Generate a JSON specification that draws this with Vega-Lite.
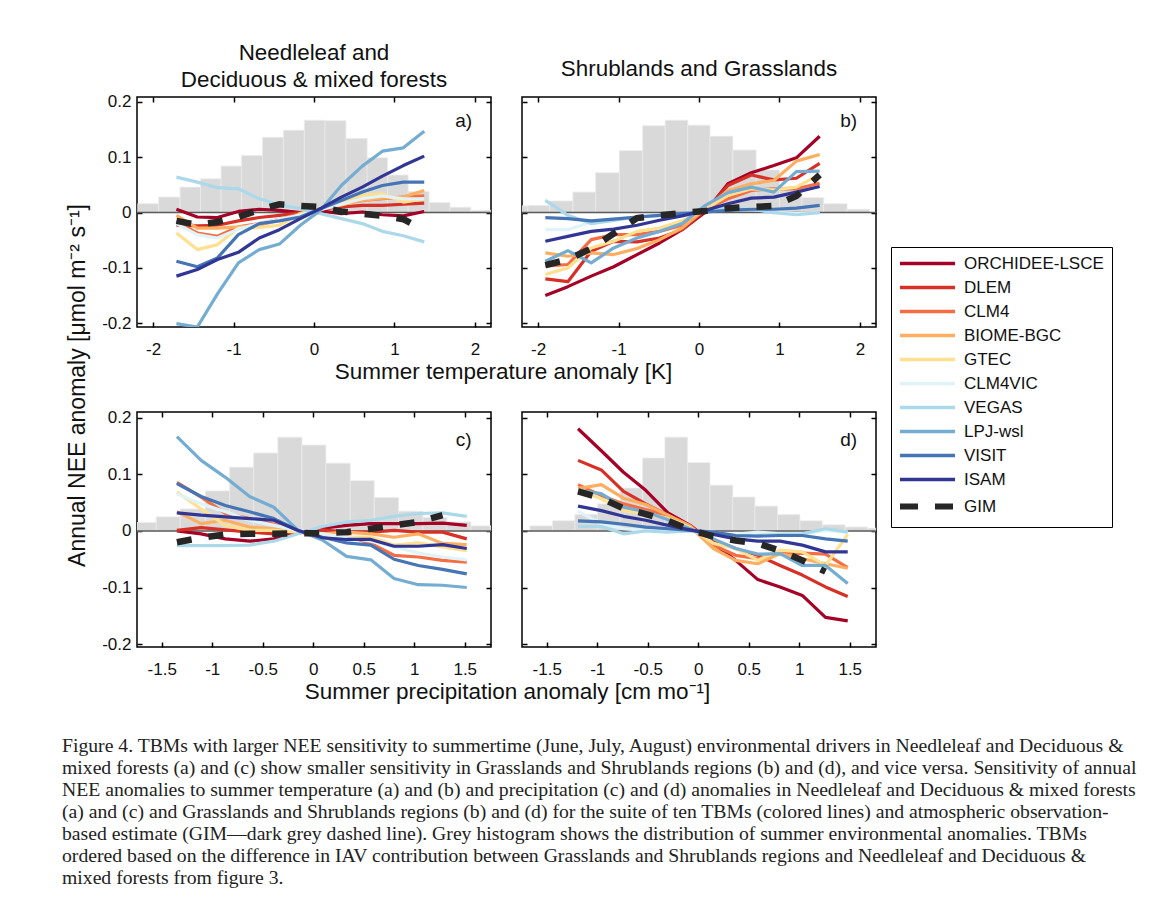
{
"$schema": "https://vega.github.io/schema/vega-lite/v6.json",
"padding": {"left": 62, "top": 40, "right": 5, "bottom": 5},
"background": "white",
"datasets": {
"H": [
{"p":"a","x0":-2.19,"x1":-1.93,"h":0.016},{"p":"a","x0":-1.93,"x1":-1.665,"h":0.028},{"p":"a","x0":-1.665,"x1":-1.41,"h":0.046},{"p":"a","x0":-1.41,"x1":-1.155,"h":0.061},{"p":"a","x0":-1.155,"x1":-0.9,"h":0.084},{"p":"a","x0":-0.9,"x1":-0.64,"h":0.103},{"p":"a","x0":-0.64,"x1":-0.38,"h":0.136},{"p":"a","x0":-0.38,"x1":-0.12,"h":0.149},{"p":"a","x0":-0.12,"x1":0.137,"h":0.167},{"p":"a","x0":0.137,"x1":0.397,"h":0.166},{"p":"a","x0":0.397,"x1":0.66,"h":0.134},{"p":"a","x0":0.66,"x1":0.915,"h":0.099},{"p":"a","x0":0.915,"x1":1.17,"h":0.068},{"p":"a","x0":1.17,"x1":1.43,"h":0.038},{"p":"a","x0":1.43,"x1":1.69,"h":0.018},{"p":"a","x0":1.69,"x1":1.95,"h":0.0095},{"p":"a","x0":1.95,"x1":2.21,"h":0.004},
{"p":"b","x0":-2.4,"x1":-2.128,"h":0.012},{"p":"b","x0":-2.128,"x1":-1.858,"h":0.013},{"p":"b","x0":-1.858,"x1":-1.567,"h":0.021},{"p":"b","x0":-1.567,"x1":-1.284,"h":0.037},{"p":"b","x0":-1.284,"x1":-0.99,"h":0.072},{"p":"b","x0":-0.99,"x1":-0.7,"h":0.112},{"p":"b","x0":-0.7,"x1":-0.42,"h":0.157},{"p":"b","x0":-0.42,"x1":-0.14,"h":0.167},{"p":"b","x0":-0.14,"x1":0.137,"h":0.158},{"p":"b","x0":0.137,"x1":0.42,"h":0.138},{"p":"b","x0":0.42,"x1":0.71,"h":0.113},{"p":"b","x0":0.71,"x1":1.0,"h":0.077},{"p":"b","x0":1.0,"x1":1.28,"h":0.047},{"p":"b","x0":1.28,"x1":1.55,"h":0.027},{"p":"b","x0":1.55,"x1":1.84,"h":0.016},{"p":"b","x0":1.84,"x1":2.12,"h":0.006},
{"p":"c","x0":-1.794,"x1":-1.554,"h":0.015},{"p":"c","x0":-1.554,"x1":-1.317,"h":0.025},{"p":"c","x0":-1.317,"x1":-1.069,"h":0.039},{"p":"c","x0":-1.069,"x1":-0.828,"h":0.071},{"p":"c","x0":-0.828,"x1":-0.59,"h":0.113},{"p":"c","x0":-0.59,"x1":-0.35,"h":0.138},{"p":"c","x0":-0.35,"x1":-0.112,"h":0.166},{"p":"c","x0":-0.112,"x1":0.125,"h":0.152},{"p":"c","x0":0.125,"x1":0.366,"h":0.12},{"p":"c","x0":0.366,"x1":0.604,"h":0.089},{"p":"c","x0":0.604,"x1":0.845,"h":0.059},{"p":"c","x0":0.845,"x1":1.086,"h":0.035},{"p":"c","x0":1.086,"x1":1.323,"h":0.024},{"p":"c","x0":1.323,"x1":1.561,"h":0.016},{"p":"c","x0":1.561,"x1":1.8,"h":0.009},
{"p":"d","x0":-1.666,"x1":-1.442,"h":0.009},{"p":"d","x0":-1.442,"x1":-1.221,"h":0.018},{"p":"d","x0":-1.221,"x1":-0.996,"h":0.029},{"p":"d","x0":-0.996,"x1":-0.775,"h":0.048},{"p":"d","x0":-0.775,"x1":-0.551,"h":0.076},{"p":"d","x0":-0.551,"x1":-0.33,"h":0.129},{"p":"d","x0":-0.33,"x1":-0.105,"h":0.166},{"p":"d","x0":-0.105,"x1":0.116,"h":0.121},{"p":"d","x0":0.116,"x1":0.341,"h":0.081},{"p":"d","x0":0.341,"x1":0.561,"h":0.06},{"p":"d","x0":0.561,"x1":0.786,"h":0.044},{"p":"d","x0":0.786,"x1":1.007,"h":0.029},{"p":"d","x0":1.007,"x1":1.228,"h":0.018},{"p":"d","x0":1.228,"x1":1.453,"h":0.011},{"p":"d","x0":1.453,"x1":1.674,"h":0.007},{"p":"d","x0":1.674,"x1":1.9,"h":0.005}
],
"L": [
{"p":"a","m":"ORCHIDEE-LSCE","x":-1.71,"y":0.006},{"p":"a","m":"ORCHIDEE-LSCE","x":-1.45,"y":-0.008},{"p":"a","m":"ORCHIDEE-LSCE","x":-1.2,"y":-0.009},{"p":"a","m":"ORCHIDEE-LSCE","x":-0.94,"y":0.002},{"p":"a","m":"ORCHIDEE-LSCE","x":-0.68,"y":0.006},{"p":"a","m":"ORCHIDEE-LSCE","x":-0.43,"y":0.004},{"p":"a","m":"ORCHIDEE-LSCE","x":-0.17,"y":0},{"p":"a","m":"ORCHIDEE-LSCE","x":0.08,"y":0.003},{"p":"a","m":"ORCHIDEE-LSCE","x":0.34,"y":-0.002},{"p":"a","m":"ORCHIDEE-LSCE","x":0.6,"y":0.001},{"p":"a","m":"ORCHIDEE-LSCE","x":0.85,"y":-0.004},{"p":"a","m":"ORCHIDEE-LSCE","x":1.11,"y":-0.006},{"p":"a","m":"ORCHIDEE-LSCE","x":1.37,"y":0.002},
{"p":"a","m":"DLEM","x":-1.71,"y":-0.023},{"p":"a","m":"DLEM","x":-1.45,"y":-0.024},{"p":"a","m":"DLEM","x":-1.2,"y":-0.023},{"p":"a","m":"DLEM","x":-0.94,"y":-0.015},{"p":"a","m":"DLEM","x":-0.68,"y":-0.009},{"p":"a","m":"DLEM","x":-0.43,"y":-0.005},{"p":"a","m":"DLEM","x":-0.17,"y":0},{"p":"a","m":"DLEM","x":0.08,"y":0.006},{"p":"a","m":"DLEM","x":0.34,"y":0.01},{"p":"a","m":"DLEM","x":0.6,"y":0.013},{"p":"a","m":"DLEM","x":0.85,"y":0.013},{"p":"a","m":"DLEM","x":1.11,"y":0.015},{"p":"a","m":"DLEM","x":1.37,"y":0.017},
{"p":"a","m":"CLM4","x":-1.71,"y":-0.017},{"p":"a","m":"CLM4","x":-1.45,"y":-0.037},{"p":"a","m":"CLM4","x":-1.2,"y":-0.043},{"p":"a","m":"CLM4","x":-0.94,"y":-0.026},{"p":"a","m":"CLM4","x":-0.68,"y":-0.02},{"p":"a","m":"CLM4","x":-0.43,"y":-0.012},{"p":"a","m":"CLM4","x":-0.17,"y":-0.002},{"p":"a","m":"CLM4","x":0.08,"y":0.007},{"p":"a","m":"CLM4","x":0.34,"y":0.016},{"p":"a","m":"CLM4","x":0.6,"y":0.022},{"p":"a","m":"CLM4","x":0.85,"y":0.025},{"p":"a","m":"CLM4","x":1.11,"y":0.028},{"p":"a","m":"CLM4","x":1.37,"y":0.03},
{"p":"a","m":"BIOME-BGC","x":-1.71,"y":-0.005},{"p":"a","m":"BIOME-BGC","x":-1.45,"y":-0.028},{"p":"a","m":"BIOME-BGC","x":-1.2,"y":-0.028},{"p":"a","m":"BIOME-BGC","x":-0.94,"y":-0.026},{"p":"a","m":"BIOME-BGC","x":-0.68,"y":-0.023},{"p":"a","m":"BIOME-BGC","x":-0.43,"y":-0.014},{"p":"a","m":"BIOME-BGC","x":-0.17,"y":-0.004},{"p":"a","m":"BIOME-BGC","x":0.08,"y":0.006},{"p":"a","m":"BIOME-BGC","x":0.34,"y":0.014},{"p":"a","m":"BIOME-BGC","x":0.6,"y":0.022},{"p":"a","m":"BIOME-BGC","x":0.85,"y":0.026},{"p":"a","m":"BIOME-BGC","x":1.11,"y":0.028},{"p":"a","m":"BIOME-BGC","x":1.37,"y":0.04},
{"p":"a","m":"GTEC","x":-1.71,"y":-0.037},{"p":"a","m":"GTEC","x":-1.45,"y":-0.067},{"p":"a","m":"GTEC","x":-1.2,"y":-0.058},{"p":"a","m":"GTEC","x":-0.94,"y":-0.028},{"p":"a","m":"GTEC","x":-0.68,"y":-0.027},{"p":"a","m":"GTEC","x":-0.43,"y":-0.023},{"p":"a","m":"GTEC","x":-0.17,"y":-0.002},{"p":"a","m":"GTEC","x":0.08,"y":0.007},{"p":"a","m":"GTEC","x":0.34,"y":0.019},{"p":"a","m":"GTEC","x":0.6,"y":0.031},{"p":"a","m":"GTEC","x":0.85,"y":0.034},{"p":"a","m":"GTEC","x":1.11,"y":0.019},{"p":"a","m":"GTEC","x":1.37,"y":0.025},
{"p":"a","m":"CLM4VIC","x":-1.71,"y":-0.02},{"p":"a","m":"CLM4VIC","x":-1.45,"y":-0.04},{"p":"a","m":"CLM4VIC","x":-1.2,"y":-0.046},{"p":"a","m":"CLM4VIC","x":-0.94,"y":-0.03},{"p":"a","m":"CLM4VIC","x":-0.68,"y":-0.02},{"p":"a","m":"CLM4VIC","x":-0.43,"y":-0.012},{"p":"a","m":"CLM4VIC","x":-0.17,"y":-0.005},{"p":"a","m":"CLM4VIC","x":0.08,"y":0.005},{"p":"a","m":"CLM4VIC","x":0.34,"y":0.015},{"p":"a","m":"CLM4VIC","x":0.6,"y":0.025},{"p":"a","m":"CLM4VIC","x":0.85,"y":0.03},{"p":"a","m":"CLM4VIC","x":1.11,"y":0.025},{"p":"a","m":"CLM4VIC","x":1.37,"y":0.025},
{"p":"a","m":"VEGAS","x":-1.71,"y":0.064},{"p":"a","m":"VEGAS","x":-1.45,"y":0.055},{"p":"a","m":"VEGAS","x":-1.2,"y":0.045},{"p":"a","m":"VEGAS","x":-0.94,"y":0.043},{"p":"a","m":"VEGAS","x":-0.68,"y":0.025},{"p":"a","m":"VEGAS","x":-0.43,"y":0.014},{"p":"a","m":"VEGAS","x":-0.17,"y":0.007},{"p":"a","m":"VEGAS","x":0.08,"y":-0.002},{"p":"a","m":"VEGAS","x":0.34,"y":-0.011},{"p":"a","m":"VEGAS","x":0.6,"y":-0.02},{"p":"a","m":"VEGAS","x":0.85,"y":-0.034},{"p":"a","m":"VEGAS","x":1.11,"y":-0.042},{"p":"a","m":"VEGAS","x":1.37,"y":-0.053},
{"p":"a","m":"LPJ-wsl","x":-1.71,"y":-0.201},{"p":"a","m":"LPJ-wsl","x":-1.45,"y":-0.207},{"p":"a","m":"LPJ-wsl","x":-1.2,"y":-0.147},{"p":"a","m":"LPJ-wsl","x":-0.94,"y":-0.091},{"p":"a","m":"LPJ-wsl","x":-0.68,"y":-0.067},{"p":"a","m":"LPJ-wsl","x":-0.43,"y":-0.057},{"p":"a","m":"LPJ-wsl","x":-0.17,"y":-0.023},{"p":"a","m":"LPJ-wsl","x":0.08,"y":0.004},{"p":"a","m":"LPJ-wsl","x":0.34,"y":0.049},{"p":"a","m":"LPJ-wsl","x":0.6,"y":0.084},{"p":"a","m":"LPJ-wsl","x":0.85,"y":0.111},{"p":"a","m":"LPJ-wsl","x":1.11,"y":0.117},{"p":"a","m":"LPJ-wsl","x":1.37,"y":0.147},
{"p":"a","m":"VISIT","x":-1.71,"y":-0.088},{"p":"a","m":"VISIT","x":-1.45,"y":-0.098},{"p":"a","m":"VISIT","x":-1.2,"y":-0.082},{"p":"a","m":"VISIT","x":-0.94,"y":-0.04},{"p":"a","m":"VISIT","x":-0.68,"y":-0.02},{"p":"a","m":"VISIT","x":-0.43,"y":-0.015},{"p":"a","m":"VISIT","x":-0.17,"y":-0.008},{"p":"a","m":"VISIT","x":0.08,"y":0.007},{"p":"a","m":"VISIT","x":0.34,"y":0.022},{"p":"a","m":"VISIT","x":0.6,"y":0.037},{"p":"a","m":"VISIT","x":0.85,"y":0.049},{"p":"a","m":"VISIT","x":1.11,"y":0.055},{"p":"a","m":"VISIT","x":1.37,"y":0.055},
{"p":"a","m":"ISAM","x":-1.71,"y":-0.115},{"p":"a","m":"ISAM","x":-1.45,"y":-0.103},{"p":"a","m":"ISAM","x":-1.2,"y":-0.085},{"p":"a","m":"ISAM","x":-0.94,"y":-0.072},{"p":"a","m":"ISAM","x":-0.68,"y":-0.046},{"p":"a","m":"ISAM","x":-0.43,"y":-0.031},{"p":"a","m":"ISAM","x":-0.17,"y":-0.011},{"p":"a","m":"ISAM","x":0.08,"y":0.007},{"p":"a","m":"ISAM","x":0.34,"y":0.028},{"p":"a","m":"ISAM","x":0.6,"y":0.046},{"p":"a","m":"ISAM","x":0.85,"y":0.066},{"p":"a","m":"ISAM","x":1.11,"y":0.085},{"p":"a","m":"ISAM","x":1.37,"y":0.102},
{"p":"a","m":"GIM","x":-1.71,"y":-0.015},{"p":"a","m":"GIM","x":-1.45,"y":-0.022},{"p":"a","m":"GIM","x":-1.2,"y":-0.017},{"p":"a","m":"GIM","x":-0.94,"y":-0.008},{"p":"a","m":"GIM","x":-0.68,"y":0.005},{"p":"a","m":"GIM","x":-0.43,"y":0.015},{"p":"a","m":"GIM","x":-0.17,"y":0.012},{"p":"a","m":"GIM","x":0.08,"y":0.01},{"p":"a","m":"GIM","x":0.34,"y":0.002},{"p":"a","m":"GIM","x":0.6,"y":-0.002},{"p":"a","m":"GIM","x":0.85,"y":-0.006},{"p":"a","m":"GIM","x":1.11,"y":-0.012},{"p":"a","m":"GIM","x":1.37,"y":-0.032},

{"p":"b","m":"ORCHIDEE-LSCE","x":-1.91,"y":-0.15},{"p":"b","m":"ORCHIDEE-LSCE","x":-1.63,"y":-0.134},{"p":"b","m":"ORCHIDEE-LSCE","x":-1.34,"y":-0.115},{"p":"b","m":"ORCHIDEE-LSCE","x":-1.06,"y":-0.098},{"p":"b","m":"ORCHIDEE-LSCE","x":-0.77,"y":-0.076},{"p":"b","m":"ORCHIDEE-LSCE","x":-0.49,"y":-0.055},{"p":"b","m":"ORCHIDEE-LSCE","x":-0.21,"y":-0.031},{"p":"b","m":"ORCHIDEE-LSCE","x":0.08,"y":0.001},{"p":"b","m":"ORCHIDEE-LSCE","x":0.36,"y":0.052},{"p":"b","m":"ORCHIDEE-LSCE","x":0.65,"y":0.072},{"p":"b","m":"ORCHIDEE-LSCE","x":0.93,"y":0.085},{"p":"b","m":"ORCHIDEE-LSCE","x":1.21,"y":0.099},{"p":"b","m":"ORCHIDEE-LSCE","x":1.5,"y":0.138},
{"p":"b","m":"DLEM","x":-1.91,"y":-0.12},{"p":"b","m":"DLEM","x":-1.63,"y":-0.125},{"p":"b","m":"DLEM","x":-1.34,"y":-0.07},{"p":"b","m":"DLEM","x":-1.06,"y":-0.052},{"p":"b","m":"DLEM","x":-0.77,"y":-0.053},{"p":"b","m":"DLEM","x":-0.49,"y":-0.046},{"p":"b","m":"DLEM","x":-0.21,"y":-0.031},{"p":"b","m":"DLEM","x":0.08,"y":0.004},{"p":"b","m":"DLEM","x":0.36,"y":0.049},{"p":"b","m":"DLEM","x":0.65,"y":0.068},{"p":"b","m":"DLEM","x":0.93,"y":0.059},{"p":"b","m":"DLEM","x":1.21,"y":0.062},{"p":"b","m":"DLEM","x":1.5,"y":0.089},
{"p":"b","m":"CLM4","x":-1.91,"y":-0.097},{"p":"b","m":"CLM4","x":-1.63,"y":-0.094},{"p":"b","m":"CLM4","x":-1.34,"y":-0.049},{"p":"b","m":"CLM4","x":-1.06,"y":-0.04},{"p":"b","m":"CLM4","x":-0.77,"y":-0.04},{"p":"b","m":"CLM4","x":-0.49,"y":-0.034},{"p":"b","m":"CLM4","x":-0.21,"y":-0.023},{"p":"b","m":"CLM4","x":0.08,"y":0.006},{"p":"b","m":"CLM4","x":0.36,"y":0.025},{"p":"b","m":"CLM4","x":0.65,"y":0.04},{"p":"b","m":"CLM4","x":0.93,"y":0.043},{"p":"b","m":"CLM4","x":1.21,"y":0.043},{"p":"b","m":"CLM4","x":1.5,"y":0.053},
{"p":"b","m":"BIOME-BGC","x":-1.91,"y":-0.073},{"p":"b","m":"BIOME-BGC","x":-1.63,"y":-0.079},{"p":"b","m":"BIOME-BGC","x":-1.34,"y":-0.073},{"p":"b","m":"BIOME-BGC","x":-1.06,"y":-0.076},{"p":"b","m":"BIOME-BGC","x":-0.77,"y":-0.065},{"p":"b","m":"BIOME-BGC","x":-0.49,"y":-0.049},{"p":"b","m":"BIOME-BGC","x":-0.21,"y":-0.028},{"p":"b","m":"BIOME-BGC","x":0.08,"y":0.007},{"p":"b","m":"BIOME-BGC","x":0.36,"y":0.04},{"p":"b","m":"BIOME-BGC","x":0.65,"y":0.052},{"p":"b","m":"BIOME-BGC","x":0.93,"y":0.058},{"p":"b","m":"BIOME-BGC","x":1.21,"y":0.093},{"p":"b","m":"BIOME-BGC","x":1.5,"y":0.105},
{"p":"b","m":"GTEC","x":-1.91,"y":-0.112},{"p":"b","m":"GTEC","x":-1.63,"y":-0.1},{"p":"b","m":"GTEC","x":-1.34,"y":-0.064},{"p":"b","m":"GTEC","x":-1.06,"y":-0.052},{"p":"b","m":"GTEC","x":-0.77,"y":-0.034},{"p":"b","m":"GTEC","x":-0.49,"y":-0.028},{"p":"b","m":"GTEC","x":-0.21,"y":-0.015},{"p":"b","m":"GTEC","x":0.08,"y":0.006},{"p":"b","m":"GTEC","x":0.36,"y":0.031},{"p":"b","m":"GTEC","x":0.65,"y":0.043},{"p":"b","m":"GTEC","x":0.93,"y":0.041},{"p":"b","m":"GTEC","x":1.21,"y":0.046},{"p":"b","m":"GTEC","x":1.5,"y":0.069},
{"p":"b","m":"CLM4VIC","x":-1.91,"y":-0.031},{"p":"b","m":"CLM4VIC","x":-1.63,"y":-0.031},{"p":"b","m":"CLM4VIC","x":-1.34,"y":-0.017},{"p":"b","m":"CLM4VIC","x":-1.06,"y":-0.011},{"p":"b","m":"CLM4VIC","x":-0.77,"y":-0.009},{"p":"b","m":"CLM4VIC","x":-0.49,"y":-0.006},{"p":"b","m":"CLM4VIC","x":-0.21,"y":-0.004},{"p":"b","m":"CLM4VIC","x":0.08,"y":0.002},{"p":"b","m":"CLM4VIC","x":0.36,"y":0.006},{"p":"b","m":"CLM4VIC","x":0.65,"y":0.007},{"p":"b","m":"CLM4VIC","x":0.93,"y":0.001},{"p":"b","m":"CLM4VIC","x":1.21,"y":-0.002},{"p":"b","m":"CLM4VIC","x":1.5,"y":0},
{"p":"b","m":"VEGAS","x":-1.91,"y":0.022},{"p":"b","m":"VEGAS","x":-1.63,"y":-0.005},{"p":"b","m":"VEGAS","x":-1.34,"y":-0.02},{"p":"b","m":"VEGAS","x":-1.06,"y":-0.014},{"p":"b","m":"VEGAS","x":-0.77,"y":-0.008},{"p":"b","m":"VEGAS","x":-0.49,"y":-0.005},{"p":"b","m":"VEGAS","x":-0.21,"y":-0.002},{"p":"b","m":"VEGAS","x":0.08,"y":0.004},{"p":"b","m":"VEGAS","x":0.36,"y":0.008},{"p":"b","m":"VEGAS","x":0.65,"y":0.006},{"p":"b","m":"VEGAS","x":0.93,"y":0},{"p":"b","m":"VEGAS","x":1.21,"y":-0.004},{"p":"b","m":"VEGAS","x":1.5,"y":0},
{"p":"b","m":"LPJ-wsl","x":-1.91,"y":-0.088},{"p":"b","m":"LPJ-wsl","x":-1.63,"y":-0.069},{"p":"b","m":"LPJ-wsl","x":-1.34,"y":-0.091},{"p":"b","m":"LPJ-wsl","x":-1.06,"y":-0.064},{"p":"b","m":"LPJ-wsl","x":-0.77,"y":-0.046},{"p":"b","m":"LPJ-wsl","x":-0.49,"y":-0.034},{"p":"b","m":"LPJ-wsl","x":-0.21,"y":-0.02},{"p":"b","m":"LPJ-wsl","x":0.08,"y":0.013},{"p":"b","m":"LPJ-wsl","x":0.36,"y":0.036},{"p":"b","m":"LPJ-wsl","x":0.65,"y":0.046},{"p":"b","m":"LPJ-wsl","x":0.93,"y":0.037},{"p":"b","m":"LPJ-wsl","x":1.21,"y":0.074},{"p":"b","m":"LPJ-wsl","x":1.5,"y":0.075},
{"p":"b","m":"VISIT","x":-1.91,"y":-0.009},{"p":"b","m":"VISIT","x":-1.63,"y":-0.011},{"p":"b","m":"VISIT","x":-1.34,"y":-0.015},{"p":"b","m":"VISIT","x":-1.06,"y":-0.012},{"p":"b","m":"VISIT","x":-0.77,"y":-0.008},{"p":"b","m":"VISIT","x":-0.49,"y":-0.005},{"p":"b","m":"VISIT","x":-0.21,"y":-0.002},{"p":"b","m":"VISIT","x":0.08,"y":0.001},{"p":"b","m":"VISIT","x":0.36,"y":0.004},{"p":"b","m":"VISIT","x":0.65,"y":0.006},{"p":"b","m":"VISIT","x":0.93,"y":0.006},{"p":"b","m":"VISIT","x":1.21,"y":0.008},{"p":"b","m":"VISIT","x":1.5,"y":0.013},
{"p":"b","m":"ISAM","x":-1.91,"y":-0.052},{"p":"b","m":"ISAM","x":-1.63,"y":-0.043},{"p":"b","m":"ISAM","x":-1.34,"y":-0.034},{"p":"b","m":"ISAM","x":-1.06,"y":-0.03},{"p":"b","m":"ISAM","x":-0.77,"y":-0.023},{"p":"b","m":"ISAM","x":-0.49,"y":-0.014},{"p":"b","m":"ISAM","x":-0.21,"y":-0.006},{"p":"b","m":"ISAM","x":0.08,"y":0.004},{"p":"b","m":"ISAM","x":0.36,"y":0.016},{"p":"b","m":"ISAM","x":0.65,"y":0.026},{"p":"b","m":"ISAM","x":0.93,"y":0.028},{"p":"b","m":"ISAM","x":1.21,"y":0.037},{"p":"b","m":"ISAM","x":1.5,"y":0.047},
{"p":"b","m":"GIM","x":-1.91,"y":-0.095},{"p":"b","m":"GIM","x":-1.63,"y":-0.085},{"p":"b","m":"GIM","x":-1.34,"y":-0.065},{"p":"b","m":"GIM","x":-1.06,"y":-0.038},{"p":"b","m":"GIM","x":-0.77,"y":-0.01},{"p":"b","m":"GIM","x":-0.49,"y":-0.005},{"p":"b","m":"GIM","x":-0.21,"y":-0.001},{"p":"b","m":"GIM","x":0.08,"y":0.003},{"p":"b","m":"GIM","x":0.36,"y":0.008},{"p":"b","m":"GIM","x":0.65,"y":0.01},{"p":"b","m":"GIM","x":0.93,"y":0.012},{"p":"b","m":"GIM","x":1.21,"y":0.03},{"p":"b","m":"GIM","x":1.5,"y":0.068},

{"p":"c","m":"ORCHIDEE-LSCE","x":-1.35,"y":0},{"p":"c","m":"ORCHIDEE-LSCE","x":-1.11,"y":-0.005},{"p":"c","m":"ORCHIDEE-LSCE","x":-0.87,"y":-0.014},{"p":"c","m":"ORCHIDEE-LSCE","x":-0.63,"y":-0.018},{"p":"c","m":"ORCHIDEE-LSCE","x":-0.39,"y":-0.014},{"p":"c","m":"ORCHIDEE-LSCE","x":-0.15,"y":-0.004},{"p":"c","m":"ORCHIDEE-LSCE","x":0.09,"y":0.005},{"p":"c","m":"ORCHIDEE-LSCE","x":0.33,"y":0.01},{"p":"c","m":"ORCHIDEE-LSCE","x":0.57,"y":0.013},{"p":"c","m":"ORCHIDEE-LSCE","x":0.8,"y":0.013},{"p":"c","m":"ORCHIDEE-LSCE","x":1.04,"y":0.013},{"p":"c","m":"ORCHIDEE-LSCE","x":1.28,"y":0.014},{"p":"c","m":"ORCHIDEE-LSCE","x":1.52,"y":0.01},
{"p":"c","m":"DLEM","x":-1.35,"y":0.001},{"p":"c","m":"DLEM","x":-1.11,"y":0.006},{"p":"c","m":"DLEM","x":-0.87,"y":0.002},{"p":"c","m":"DLEM","x":-0.63,"y":-0.002},{"p":"c","m":"DLEM","x":-0.39,"y":-0.005},{"p":"c","m":"DLEM","x":-0.15,"y":-0.002},{"p":"c","m":"DLEM","x":0.09,"y":0.002},{"p":"c","m":"DLEM","x":0.33,"y":-0.002},{"p":"c","m":"DLEM","x":0.57,"y":-0.002},{"p":"c","m":"DLEM","x":0.8,"y":0.001},{"p":"c","m":"DLEM","x":1.04,"y":-0.002},{"p":"c","m":"DLEM","x":1.28,"y":-0.002},{"p":"c","m":"DLEM","x":1.52,"y":-0.014},
{"p":"c","m":"CLM4","x":-1.35,"y":0.086},{"p":"c","m":"CLM4","x":-1.11,"y":0.06},{"p":"c","m":"CLM4","x":-0.87,"y":0.031},{"p":"c","m":"CLM4","x":-0.63,"y":0.022},{"p":"c","m":"CLM4","x":-0.39,"y":0.012},{"p":"c","m":"CLM4","x":-0.15,"y":0},{"p":"c","m":"CLM4","x":0.09,"y":-0.011},{"p":"c","m":"CLM4","x":0.33,"y":-0.009},{"p":"c","m":"CLM4","x":0.57,"y":-0.022},{"p":"c","m":"CLM4","x":0.8,"y":-0.043},{"p":"c","m":"CLM4","x":1.04,"y":-0.046},{"p":"c","m":"CLM4","x":1.28,"y":-0.052},{"p":"c","m":"CLM4","x":1.52,"y":-0.055},
{"p":"c","m":"BIOME-BGC","x":-1.35,"y":0.034},{"p":"c","m":"BIOME-BGC","x":-1.11,"y":0.013},{"p":"c","m":"BIOME-BGC","x":-0.87,"y":0.019},{"p":"c","m":"BIOME-BGC","x":-0.63,"y":0.007},{"p":"c","m":"BIOME-BGC","x":-0.39,"y":0.004},{"p":"c","m":"BIOME-BGC","x":-0.15,"y":0},{"p":"c","m":"BIOME-BGC","x":0.09,"y":-0.005},{"p":"c","m":"BIOME-BGC","x":0.33,"y":-0.002},{"p":"c","m":"BIOME-BGC","x":0.57,"y":-0.005},{"p":"c","m":"BIOME-BGC","x":0.8,"y":-0.011},{"p":"c","m":"BIOME-BGC","x":1.04,"y":-0.005},{"p":"c","m":"BIOME-BGC","x":1.28,"y":-0.022},{"p":"c","m":"BIOME-BGC","x":1.52,"y":-0.024},
{"p":"c","m":"GTEC","x":-1.35,"y":0.069},{"p":"c","m":"GTEC","x":-1.11,"y":0.039},{"p":"c","m":"GTEC","x":-0.87,"y":0.01},{"p":"c","m":"GTEC","x":-0.63,"y":0.001},{"p":"c","m":"GTEC","x":-0.39,"y":0.001},{"p":"c","m":"GTEC","x":-0.15,"y":-0.002},{"p":"c","m":"GTEC","x":0.09,"y":-0.008},{"p":"c","m":"GTEC","x":0.33,"y":-0.011},{"p":"c","m":"GTEC","x":0.57,"y":-0.011},{"p":"c","m":"GTEC","x":0.8,"y":-0.025},{"p":"c","m":"GTEC","x":1.04,"y":-0.021},{"p":"c","m":"GTEC","x":1.28,"y":-0.028},{"p":"c","m":"GTEC","x":1.52,"y":-0.035},
{"p":"c","m":"CLM4VIC","x":-1.35,"y":0.066},{"p":"c","m":"CLM4VIC","x":-1.11,"y":0.048},{"p":"c","m":"CLM4VIC","x":-0.87,"y":0.034},{"p":"c","m":"CLM4VIC","x":-0.63,"y":0.019},{"p":"c","m":"CLM4VIC","x":-0.39,"y":0.01},{"p":"c","m":"CLM4VIC","x":-0.15,"y":0.001},{"p":"c","m":"CLM4VIC","x":0.09,"y":-0.005},{"p":"c","m":"CLM4VIC","x":0.33,"y":-0.011},{"p":"c","m":"CLM4VIC","x":0.57,"y":-0.018},{"p":"c","m":"CLM4VIC","x":0.8,"y":-0.028},{"p":"c","m":"CLM4VIC","x":1.04,"y":-0.039},{"p":"c","m":"CLM4VIC","x":1.28,"y":-0.046},{"p":"c","m":"CLM4VIC","x":1.52,"y":-0.051},
{"p":"c","m":"VEGAS","x":-1.35,"y":-0.026},{"p":"c","m":"VEGAS","x":-1.11,"y":-0.026},{"p":"c","m":"VEGAS","x":-0.87,"y":-0.026},{"p":"c","m":"VEGAS","x":-0.63,"y":-0.025},{"p":"c","m":"VEGAS","x":-0.39,"y":-0.018},{"p":"c","m":"VEGAS","x":-0.15,"y":-0.005},{"p":"c","m":"VEGAS","x":0.09,"y":0.008},{"p":"c","m":"VEGAS","x":0.33,"y":0.016},{"p":"c","m":"VEGAS","x":0.57,"y":0.019},{"p":"c","m":"VEGAS","x":0.8,"y":0.026},{"p":"c","m":"VEGAS","x":1.04,"y":0.031},{"p":"c","m":"VEGAS","x":1.28,"y":0.032},{"p":"c","m":"VEGAS","x":1.52,"y":0.026},
{"p":"c","m":"LPJ-wsl","x":-1.35,"y":0.167},{"p":"c","m":"LPJ-wsl","x":-1.11,"y":0.125},{"p":"c","m":"LPJ-wsl","x":-0.87,"y":0.095},{"p":"c","m":"LPJ-wsl","x":-0.63,"y":0.061},{"p":"c","m":"LPJ-wsl","x":-0.39,"y":0.042},{"p":"c","m":"LPJ-wsl","x":-0.15,"y":0.001},{"p":"c","m":"LPJ-wsl","x":0.09,"y":-0.016},{"p":"c","m":"LPJ-wsl","x":0.33,"y":-0.045},{"p":"c","m":"LPJ-wsl","x":0.57,"y":-0.051},{"p":"c","m":"LPJ-wsl","x":0.8,"y":-0.084},{"p":"c","m":"LPJ-wsl","x":1.04,"y":-0.095},{"p":"c","m":"LPJ-wsl","x":1.28,"y":-0.096},{"p":"c","m":"LPJ-wsl","x":1.52,"y":-0.1},
{"p":"c","m":"VISIT","x":-1.35,"y":0.084},{"p":"c","m":"VISIT","x":-1.11,"y":0.061},{"p":"c","m":"VISIT","x":-0.87,"y":0.045},{"p":"c","m":"VISIT","x":-0.63,"y":0.034},{"p":"c","m":"VISIT","x":-0.39,"y":0.022},{"p":"c","m":"VISIT","x":-0.15,"y":0.001},{"p":"c","m":"VISIT","x":0.09,"y":-0.011},{"p":"c","m":"VISIT","x":0.33,"y":-0.021},{"p":"c","m":"VISIT","x":0.57,"y":-0.025},{"p":"c","m":"VISIT","x":0.8,"y":-0.05},{"p":"c","m":"VISIT","x":1.04,"y":-0.061},{"p":"c","m":"VISIT","x":1.28,"y":-0.068},{"p":"c","m":"VISIT","x":1.52,"y":-0.076},
{"p":"c","m":"ISAM","x":-1.35,"y":0.032},{"p":"c","m":"ISAM","x":-1.11,"y":0.028},{"p":"c","m":"ISAM","x":-0.87,"y":0.025},{"p":"c","m":"ISAM","x":-0.63,"y":0.022},{"p":"c","m":"ISAM","x":-0.39,"y":0.019},{"p":"c","m":"ISAM","x":-0.15,"y":0.001},{"p":"c","m":"ISAM","x":0.09,"y":-0.012},{"p":"c","m":"ISAM","x":0.33,"y":-0.015},{"p":"c","m":"ISAM","x":0.57,"y":-0.015},{"p":"c","m":"ISAM","x":0.8,"y":-0.027},{"p":"c","m":"ISAM","x":1.04,"y":-0.027},{"p":"c","m":"ISAM","x":1.28,"y":-0.024},{"p":"c","m":"ISAM","x":1.52,"y":-0.031},
{"p":"c","m":"GIM","x":-1.35,"y":-0.02},{"p":"c","m":"GIM","x":-1.11,"y":-0.012},{"p":"c","m":"GIM","x":-0.87,"y":-0.006},{"p":"c","m":"GIM","x":-0.63,"y":-0.005},{"p":"c","m":"GIM","x":-0.39,"y":-0.005},{"p":"c","m":"GIM","x":-0.15,"y":-0.004},{"p":"c","m":"GIM","x":0.09,"y":-0.004},{"p":"c","m":"GIM","x":0.33,"y":-0.002},{"p":"c","m":"GIM","x":0.57,"y":0.004},{"p":"c","m":"GIM","x":0.8,"y":0.01},{"p":"c","m":"GIM","x":1.04,"y":0.016},{"p":"c","m":"GIM","x":1.28,"y":0.028},

{"p":"d","m":"ORCHIDEE-LSCE","x":-1.19,"y":0.181},{"p":"d","m":"ORCHIDEE-LSCE","x":-0.96,"y":0.142},{"p":"d","m":"ORCHIDEE-LSCE","x":-0.74,"y":0.104},{"p":"d","m":"ORCHIDEE-LSCE","x":-0.52,"y":0.072},{"p":"d","m":"ORCHIDEE-LSCE","x":-0.3,"y":0.032},{"p":"d","m":"ORCHIDEE-LSCE","x":-0.08,"y":0.01},{"p":"d","m":"ORCHIDEE-LSCE","x":0.15,"y":-0.022},{"p":"d","m":"ORCHIDEE-LSCE","x":0.37,"y":-0.052},{"p":"d","m":"ORCHIDEE-LSCE","x":0.59,"y":-0.086},{"p":"d","m":"ORCHIDEE-LSCE","x":0.81,"y":-0.099},{"p":"d","m":"ORCHIDEE-LSCE","x":1.03,"y":-0.114},{"p":"d","m":"ORCHIDEE-LSCE","x":1.26,"y":-0.153},{"p":"d","m":"ORCHIDEE-LSCE","x":1.48,"y":-0.159},
{"p":"d","m":"DLEM","x":-1.19,"y":0.125},{"p":"d","m":"DLEM","x":-0.96,"y":0.108},{"p":"d","m":"DLEM","x":-0.74,"y":0.07},{"p":"d","m":"DLEM","x":-0.52,"y":0.048},{"p":"d","m":"DLEM","x":-0.3,"y":0.028},{"p":"d","m":"DLEM","x":-0.08,"y":0.007},{"p":"d","m":"DLEM","x":0.15,"y":-0.016},{"p":"d","m":"DLEM","x":0.37,"y":-0.031},{"p":"d","m":"DLEM","x":0.59,"y":-0.043},{"p":"d","m":"DLEM","x":0.81,"y":-0.061},{"p":"d","m":"DLEM","x":1.03,"y":-0.078},{"p":"d","m":"DLEM","x":1.26,"y":-0.099},{"p":"d","m":"DLEM","x":1.48,"y":-0.116},
{"p":"d","m":"CLM4","x":-1.19,"y":0.082},{"p":"d","m":"CLM4","x":-0.96,"y":0.063},{"p":"d","m":"CLM4","x":-0.74,"y":0.048},{"p":"d","m":"CLM4","x":-0.52,"y":0.038},{"p":"d","m":"CLM4","x":-0.3,"y":0.028},{"p":"d","m":"CLM4","x":-0.08,"y":0.01},{"p":"d","m":"CLM4","x":0.15,"y":-0.025},{"p":"d","m":"CLM4","x":0.37,"y":-0.043},{"p":"d","m":"CLM4","x":0.59,"y":-0.049},{"p":"d","m":"CLM4","x":0.81,"y":-0.04},{"p":"d","m":"CLM4","x":1.03,"y":-0.039},{"p":"d","m":"CLM4","x":1.26,"y":-0.041},{"p":"d","m":"CLM4","x":1.48,"y":-0.065},
{"p":"d","m":"BIOME-BGC","x":-1.19,"y":0.075},{"p":"d","m":"BIOME-BGC","x":-0.96,"y":0.082},{"p":"d","m":"BIOME-BGC","x":-0.74,"y":0.058},{"p":"d","m":"BIOME-BGC","x":-0.52,"y":0.047},{"p":"d","m":"BIOME-BGC","x":-0.3,"y":0.028},{"p":"d","m":"BIOME-BGC","x":-0.08,"y":0.008},{"p":"d","m":"BIOME-BGC","x":0.15,"y":-0.031},{"p":"d","m":"BIOME-BGC","x":0.37,"y":-0.052},{"p":"d","m":"BIOME-BGC","x":0.59,"y":-0.058},{"p":"d","m":"BIOME-BGC","x":0.81,"y":-0.04},{"p":"d","m":"BIOME-BGC","x":1.03,"y":-0.049},{"p":"d","m":"BIOME-BGC","x":1.26,"y":-0.058},{"p":"d","m":"BIOME-BGC","x":1.48,"y":-0.066},
{"p":"d","m":"GTEC","x":-1.19,"y":0.072},{"p":"d","m":"GTEC","x":-0.96,"y":0.057},{"p":"d","m":"GTEC","x":-0.74,"y":0.036},{"p":"d","m":"GTEC","x":-0.52,"y":0.031},{"p":"d","m":"GTEC","x":-0.3,"y":0.022},{"p":"d","m":"GTEC","x":-0.08,"y":0.006},{"p":"d","m":"GTEC","x":0.15,"y":-0.022},{"p":"d","m":"GTEC","x":0.37,"y":-0.031},{"p":"d","m":"GTEC","x":0.59,"y":-0.052},{"p":"d","m":"GTEC","x":0.81,"y":-0.034},{"p":"d","m":"GTEC","x":1.03,"y":-0.037},{"p":"d","m":"GTEC","x":1.26,"y":-0.061},{"p":"d","m":"GTEC","x":1.48,"y":-0.006},
{"p":"d","m":"CLM4VIC","x":-1.19,"y":0.035},{"p":"d","m":"CLM4VIC","x":-0.96,"y":0.013},{"p":"d","m":"CLM4VIC","x":-0.74,"y":0.004},{"p":"d","m":"CLM4VIC","x":-0.52,"y":0.001},{"p":"d","m":"CLM4VIC","x":-0.3,"y":0},{"p":"d","m":"CLM4VIC","x":-0.08,"y":0},{"p":"d","m":"CLM4VIC","x":0.15,"y":-0.005},{"p":"d","m":"CLM4VIC","x":0.37,"y":-0.006},{"p":"d","m":"CLM4VIC","x":0.59,"y":-0.002},{"p":"d","m":"CLM4VIC","x":0.81,"y":-0.005},{"p":"d","m":"CLM4VIC","x":1.03,"y":-0.005},{"p":"d","m":"CLM4VIC","x":1.26,"y":0.001},{"p":"d","m":"CLM4VIC","x":1.48,"y":-0.002},
{"p":"d","m":"VEGAS","x":-1.19,"y":0.008},{"p":"d","m":"VEGAS","x":-0.96,"y":0.008},{"p":"d","m":"VEGAS","x":-0.74,"y":-0.005},{"p":"d","m":"VEGAS","x":-0.52,"y":0},{"p":"d","m":"VEGAS","x":-0.3,"y":-0.002},{"p":"d","m":"VEGAS","x":-0.08,"y":0},{"p":"d","m":"VEGAS","x":0.15,"y":-0.002},{"p":"d","m":"VEGAS","x":0.37,"y":-0.009},{"p":"d","m":"VEGAS","x":0.59,"y":-0.008},{"p":"d","m":"VEGAS","x":0.81,"y":-0.006},{"p":"d","m":"VEGAS","x":1.03,"y":-0.005},{"p":"d","m":"VEGAS","x":1.26,"y":0.004},{"p":"d","m":"VEGAS","x":1.48,"y":-0.002},
{"p":"d","m":"LPJ-wsl","x":-1.19,"y":0.072},{"p":"d","m":"LPJ-wsl","x":-0.96,"y":0.066},{"p":"d","m":"LPJ-wsl","x":-0.74,"y":0.042},{"p":"d","m":"LPJ-wsl","x":-0.52,"y":0.034},{"p":"d","m":"LPJ-wsl","x":-0.3,"y":0.02},{"p":"d","m":"LPJ-wsl","x":-0.08,"y":0.004},{"p":"d","m":"LPJ-wsl","x":0.15,"y":-0.014},{"p":"d","m":"LPJ-wsl","x":0.37,"y":-0.031},{"p":"d","m":"LPJ-wsl","x":0.59,"y":-0.041},{"p":"d","m":"LPJ-wsl","x":0.81,"y":-0.04},{"p":"d","m":"LPJ-wsl","x":1.03,"y":-0.061},{"p":"d","m":"LPJ-wsl","x":1.26,"y":-0.061},{"p":"d","m":"LPJ-wsl","x":1.48,"y":-0.093},
{"p":"d","m":"VISIT","x":-1.19,"y":0.018},{"p":"d","m":"VISIT","x":-0.96,"y":0.016},{"p":"d","m":"VISIT","x":-0.74,"y":0.012},{"p":"d","m":"VISIT","x":-0.52,"y":0.007},{"p":"d","m":"VISIT","x":-0.3,"y":0.004},{"p":"d","m":"VISIT","x":-0.08,"y":0.001},{"p":"d","m":"VISIT","x":0.15,"y":-0.002},{"p":"d","m":"VISIT","x":0.37,"y":-0.008},{"p":"d","m":"VISIT","x":0.59,"y":-0.009},{"p":"d","m":"VISIT","x":0.81,"y":-0.008},{"p":"d","m":"VISIT","x":1.03,"y":-0.008},{"p":"d","m":"VISIT","x":1.26,"y":-0.014},{"p":"d","m":"VISIT","x":1.48,"y":-0.018},
{"p":"d","m":"ISAM","x":-1.19,"y":0.044},{"p":"d","m":"ISAM","x":-0.96,"y":0.036},{"p":"d","m":"ISAM","x":-0.74,"y":0.026},{"p":"d","m":"ISAM","x":-0.52,"y":0.019},{"p":"d","m":"ISAM","x":-0.3,"y":0.01},{"p":"d","m":"ISAM","x":-0.08,"y":0.002},{"p":"d","m":"ISAM","x":0.15,"y":-0.006},{"p":"d","m":"ISAM","x":0.37,"y":-0.014},{"p":"d","m":"ISAM","x":0.59,"y":-0.018},{"p":"d","m":"ISAM","x":0.81,"y":-0.018},{"p":"d","m":"ISAM","x":1.03,"y":-0.025},{"p":"d","m":"ISAM","x":1.26,"y":-0.037},{"p":"d","m":"ISAM","x":1.48,"y":-0.037},
{"p":"d","m":"GIM","x":-1.19,"y":0.07},{"p":"d","m":"GIM","x":-0.96,"y":0.058},{"p":"d","m":"GIM","x":-0.74,"y":0.04},{"p":"d","m":"GIM","x":-0.52,"y":0.03},{"p":"d","m":"GIM","x":-0.3,"y":0.018},{"p":"d","m":"GIM","x":-0.08,"y":0.002},{"p":"d","m":"GIM","x":0.15,"y":-0.01},{"p":"d","m":"GIM","x":0.37,"y":-0.017},{"p":"d","m":"GIM","x":0.59,"y":-0.022},{"p":"d","m":"GIM","x":0.81,"y":-0.035},{"p":"d","m":"GIM","x":1.03,"y":-0.052},{"p":"d","m":"GIM","x":1.26,"y":-0.072}
]
},
"columns": 2,
"spacing": {"row": 85, "column": 31},
"bounds": "flush",
"concat": [
{
"width": 354, "height": 230,
"title": {"text": ["Needleleaf and", "Deciduous & mixed forests"], "offset": 2, "lineHeight": 27},
"resolve": {"axis": {"x": "independent", "y": "independent"}},
"layer": [
{"data": {"name": "H"}, "transform": [{"filter": "datum.p == 'a'"}],
 "mark": {"type": "rect", "fill": "#d9d9d9", "stroke": "#ebebeb", "strokeWidth": 0.8, "clip": true},
 "encoding": {
  "x": {"field": "x0", "type": "quantitative", "scale": {"domain": [-2.2, 2.2], "nice": false, "zero": false},
        "axis": {"orient": "bottom", "values": [-2, -1, 0, 1, 2], "title": "Summer temperature anomaly [K]", "titleX": 366, "titleY": 44, "titleBaseline": "middle", "titleAlign": "center", "titleFontSize": 22.5}},
  "x2": {"field": "x1"},
  "y": {"field": "h", "type": "quantitative", "scale": {"domain": [-0.207, 0.209], "nice": false, "zero": false},
        "axis": {"orient": "left", "values": [-0.2, -0.1, 0, 0.1, 0.2], "title": "Annual NEE anomaly [μmol m⁻² s⁻¹]", "titleX": -60, "titleY": 288, "titleAngle": -90, "titleBaseline": "middle", "titleAlign": "center", "titleFontSize": 23}},
  "y2": {"datum": 0}
 }},
{"data": {"values": [{}]}, "mark": {"type": "rule", "color": "#5a5a5a", "strokeWidth": 1.5},
 "encoding": {"y": {"datum": 0, "type": "quantitative", "scale": {"domain": [-0.207, 0.209], "nice": false, "zero": false}, "axis": {"orient": "right", "values": [-0.2, -0.1, 0, 0.1, 0.2], "labels": false, "title": null}}}},
{"data": {"name": "L"}, "transform": [{"filter": "datum.p == 'a' && datum.m != 'GIM'"}],
 "mark": {"type": "line", "strokeWidth": 3.2, "strokeJoin": "round", "clip": true},
 "encoding": {
  "x": {"field": "x", "type": "quantitative", "scale": {"domain": [-2.2, 2.2], "nice": false, "zero": false}, "axis": {"orient": "top", "values": [-2, -1, 0, 1, 2], "labels": false, "title": null}},
  "y": {"field": "y", "type": "quantitative", "scale": {"domain": [-0.207, 0.209], "nice": false, "zero": false}, "axis": null},
  "color": {"field": "m", "type": "nominal", "scale": {"domain": ["ORCHIDEE-LSCE","DLEM","CLM4","BIOME-BGC","GTEC","CLM4VIC","VEGAS","LPJ-wsl","VISIT","ISAM","GIM"], "range": ["#a50026","#d73027","#f46d43","#fdae61","#fee090","#e0f3f8","#abd9e9","#74add1","#4575b4","#313695","#262626"]}, "legend": {"title": null, "encode": {"symbols": {"update": {"strokeWidth": {"signal": "datum.value === 'GIM' ? 6 : 3.5"}, "strokeDash": {"signal": "datum.value === 'GIM' ? [18, 17] : [1, 0]"}}}}}}
 }},
{"data": {"name": "L"}, "transform": [{"filter": "datum.p == 'a' && datum.m == 'GIM'"}],
 "mark": {"type": "line", "strokeWidth": 6.5, "strokeDash": [15, 17], "strokeCap": "butt", "clip": true},
 "encoding": {
  "x": {"field": "x", "type": "quantitative", "scale": {"domain": [-2.2, 2.2], "nice": false, "zero": false}, "axis": null},
  "y": {"field": "y", "type": "quantitative", "scale": {"domain": [-0.207, 0.209], "nice": false, "zero": false}, "axis": null},
  "color": {"field": "m", "type": "nominal", "scale": {"domain": ["ORCHIDEE-LSCE","DLEM","CLM4","BIOME-BGC","GTEC","CLM4VIC","VEGAS","LPJ-wsl","VISIT","ISAM","GIM"], "range": ["#a50026","#d73027","#f46d43","#fdae61","#fee090","#e0f3f8","#abd9e9","#74add1","#4575b4","#313695","#262626"]}, "legend": {"title": null, "encode": {"symbols": {"update": {"strokeWidth": {"signal": "datum.value === 'GIM' ? 6 : 3.5"}, "strokeDash": {"signal": "datum.value === 'GIM' ? [18, 17] : [1, 0]"}}}}}}
 }},
{"data": {"values": [{}]}, "mark": {"type": "text", "fontSize": 19, "font": "Liberation Sans", "color": "#111"},
 "encoding": {
  "x": {"datum": 1.86, "type": "quantitative", "scale": {"domain": [-2.2, 2.2], "nice": false, "zero": false}, "axis": null},
  "y": {"datum": 0.166, "type": "quantitative", "scale": {"domain": [-0.207, 0.209], "nice": false, "zero": false}, "axis": null},
  "text": {"value": "a)"}
 }}
]
},
{
"width": 354, "height": 230,
"title": {"text": "Shrublands and Grasslands", "offset": 16},
"resolve": {"axis": {"x": "independent", "y": "independent"}},
"layer": [
{"data": {"name": "H"}, "transform": [{"filter": "datum.p == 'b'"}],
 "mark": {"type": "rect", "fill": "#d9d9d9", "stroke": "#ebebeb", "strokeWidth": 0.8, "clip": true},
 "encoding": {
  "x": {"field": "x0", "type": "quantitative", "scale": {"domain": [-2.2, 2.2], "nice": false, "zero": false},
        "axis": {"orient": "bottom", "values": [-2, -1, 0, 1, 2], "title": null}},
  "x2": {"field": "x1"},
  "y": {"field": "h", "type": "quantitative", "scale": {"domain": [-0.207, 0.209], "nice": false, "zero": false},
        "axis": {"orient": "left", "values": [-0.2, -0.1, 0, 0.1, 0.2], "title": null, "labels": false}},
  "y2": {"datum": 0}
 }},
{"data": {"values": [{}]}, "mark": {"type": "rule", "color": "#5a5a5a", "strokeWidth": 1.5},
 "encoding": {"y": {"datum": 0, "type": "quantitative", "scale": {"domain": [-0.207, 0.209], "nice": false, "zero": false}, "axis": {"orient": "right", "values": [-0.2, -0.1, 0, 0.1, 0.2], "labels": false, "title": null}}}},
{"data": {"name": "L"}, "transform": [{"filter": "datum.p == 'b' && datum.m != 'GIM'"}],
 "mark": {"type": "line", "strokeWidth": 3.2, "strokeJoin": "round", "clip": true},
 "encoding": {
  "x": {"field": "x", "type": "quantitative", "scale": {"domain": [-2.2, 2.2], "nice": false, "zero": false}, "axis": {"orient": "top", "values": [-2, -1, 0, 1, 2], "labels": false, "title": null}},
  "y": {"field": "y", "type": "quantitative", "scale": {"domain": [-0.207, 0.209], "nice": false, "zero": false}, "axis": null},
  "color": {"field": "m", "type": "nominal", "scale": {"domain": ["ORCHIDEE-LSCE","DLEM","CLM4","BIOME-BGC","GTEC","CLM4VIC","VEGAS","LPJ-wsl","VISIT","ISAM","GIM"], "range": ["#a50026","#d73027","#f46d43","#fdae61","#fee090","#e0f3f8","#abd9e9","#74add1","#4575b4","#313695","#262626"]}, "legend": {"title": null, "encode": {"symbols": {"update": {"strokeWidth": {"signal": "datum.value === 'GIM' ? 6 : 3.5"}, "strokeDash": {"signal": "datum.value === 'GIM' ? [18, 17] : [1, 0]"}}}}}}
 }},
{"data": {"name": "L"}, "transform": [{"filter": "datum.p == 'b' && datum.m == 'GIM'"}],
 "mark": {"type": "line", "strokeWidth": 6.5, "strokeDash": [15, 17], "strokeCap": "butt", "clip": true},
 "encoding": {
  "x": {"field": "x", "type": "quantitative", "scale": {"domain": [-2.2, 2.2], "nice": false, "zero": false}, "axis": null},
  "y": {"field": "y", "type": "quantitative", "scale": {"domain": [-0.207, 0.209], "nice": false, "zero": false}, "axis": null},
  "color": {"field": "m", "type": "nominal", "scale": {"domain": ["ORCHIDEE-LSCE","DLEM","CLM4","BIOME-BGC","GTEC","CLM4VIC","VEGAS","LPJ-wsl","VISIT","ISAM","GIM"], "range": ["#a50026","#d73027","#f46d43","#fdae61","#fee090","#e0f3f8","#abd9e9","#74add1","#4575b4","#313695","#262626"]}, "legend": {"title": null, "encode": {"symbols": {"update": {"strokeWidth": {"signal": "datum.value === 'GIM' ? 6 : 3.5"}, "strokeDash": {"signal": "datum.value === 'GIM' ? [18, 17] : [1, 0]"}}}}}}
 }},
{"data": {"values": [{}]}, "mark": {"type": "text", "fontSize": 19, "font": "Liberation Sans", "color": "#111"},
 "encoding": {
  "x": {"datum": 1.86, "type": "quantitative", "scale": {"domain": [-2.2, 2.2], "nice": false, "zero": false}, "axis": null},
  "y": {"datum": 0.166, "type": "quantitative", "scale": {"domain": [-0.207, 0.209], "nice": false, "zero": false}, "axis": null},
  "text": {"value": "b)"}
 }}
]
},
{
"width": 354, "height": 235,
"resolve": {"axis": {"x": "independent", "y": "independent"}},
"layer": [
{"data": {"name": "H"}, "transform": [{"filter": "datum.p == 'c'"}],
 "mark": {"type": "rect", "fill": "#d9d9d9", "stroke": "#ebebeb", "strokeWidth": 0.8, "clip": true},
 "encoding": {
  "x": {"field": "x0", "type": "quantitative", "scale": {"domain": [-1.745, 1.76], "nice": false, "zero": false},
        "axis": {"orient": "bottom", "values": [-1.5, -1, -0.5, 0, 0.5, 1, 1.5], "title": "Summer precipitation anomaly [cm mo⁻¹]", "titleX": 370, "titleY": 44, "titleBaseline": "middle", "titleAlign": "center", "titleFontSize": 22.5}},
  "x2": {"field": "x1"},
  "y": {"field": "h", "type": "quantitative", "scale": {"domain": [-0.2053, 0.2106], "nice": false, "zero": false},
        "axis": {"orient": "left", "values": [-0.2, -0.1, 0, 0.1, 0.2], "title": null}},
  "y2": {"datum": 0}
 }},
{"data": {"values": [{}]}, "mark": {"type": "rule", "color": "#5a5a5a", "strokeWidth": 1.5},
 "encoding": {"y": {"datum": 0, "type": "quantitative", "scale": {"domain": [-0.2053, 0.2106], "nice": false, "zero": false}, "axis": {"orient": "right", "values": [-0.2, -0.1, 0, 0.1, 0.2], "labels": false, "title": null}}}},
{"data": {"name": "L"}, "transform": [{"filter": "datum.p == 'c' && datum.m != 'GIM'"}],
 "mark": {"type": "line", "strokeWidth": 3.2, "strokeJoin": "round", "clip": true},
 "encoding": {
  "x": {"field": "x", "type": "quantitative", "scale": {"domain": [-1.745, 1.76], "nice": false, "zero": false}, "axis": {"orient": "top", "values": [-1.5, -1, -0.5, 0, 0.5, 1, 1.5], "labels": false, "title": null}},
  "y": {"field": "y", "type": "quantitative", "scale": {"domain": [-0.2053, 0.2106], "nice": false, "zero": false}, "axis": null},
  "color": {"field": "m", "type": "nominal", "scale": {"domain": ["ORCHIDEE-LSCE","DLEM","CLM4","BIOME-BGC","GTEC","CLM4VIC","VEGAS","LPJ-wsl","VISIT","ISAM","GIM"], "range": ["#a50026","#d73027","#f46d43","#fdae61","#fee090","#e0f3f8","#abd9e9","#74add1","#4575b4","#313695","#262626"]}, "legend": {"title": null, "encode": {"symbols": {"update": {"strokeWidth": {"signal": "datum.value === 'GIM' ? 6 : 3.5"}, "strokeDash": {"signal": "datum.value === 'GIM' ? [18, 17] : [1, 0]"}}}}}}
 }},
{"data": {"name": "L"}, "transform": [{"filter": "datum.p == 'c' && datum.m == 'GIM'"}],
 "mark": {"type": "line", "strokeWidth": 6.5, "strokeDash": [15, 17], "strokeCap": "butt", "clip": true},
 "encoding": {
  "x": {"field": "x", "type": "quantitative", "scale": {"domain": [-1.745, 1.76], "nice": false, "zero": false}, "axis": null},
  "y": {"field": "y", "type": "quantitative", "scale": {"domain": [-0.2053, 0.2106], "nice": false, "zero": false}, "axis": null},
  "color": {"field": "m", "type": "nominal", "scale": {"domain": ["ORCHIDEE-LSCE","DLEM","CLM4","BIOME-BGC","GTEC","CLM4VIC","VEGAS","LPJ-wsl","VISIT","ISAM","GIM"], "range": ["#a50026","#d73027","#f46d43","#fdae61","#fee090","#e0f3f8","#abd9e9","#74add1","#4575b4","#313695","#262626"]}, "legend": {"title": null, "encode": {"symbols": {"update": {"strokeWidth": {"signal": "datum.value === 'GIM' ? 6 : 3.5"}, "strokeDash": {"signal": "datum.value === 'GIM' ? [18, 17] : [1, 0]"}}}}}}
 }},
{"data": {"values": [{}]}, "mark": {"type": "text", "fontSize": 19, "font": "Liberation Sans", "color": "#111"},
 "encoding": {
  "x": {"datum": 1.49, "type": "quantitative", "scale": {"domain": [-1.745, 1.76], "nice": false, "zero": false}, "axis": null},
  "y": {"datum": 0.161, "type": "quantitative", "scale": {"domain": [-0.2053, 0.2106], "nice": false, "zero": false}, "axis": null},
  "text": {"value": "c)"}
 }}
]
},
{
"width": 354, "height": 235,
"resolve": {"axis": {"x": "independent", "y": "independent"}},
"layer": [
{"data": {"name": "H"}, "transform": [{"filter": "datum.p == 'd'"}],
 "mark": {"type": "rect", "fill": "#d9d9d9", "stroke": "#ebebeb", "strokeWidth": 0.8, "clip": true},
 "encoding": {
  "x": {"field": "x0", "type": "quantitative", "scale": {"domain": [-1.745, 1.76], "nice": false, "zero": false},
        "axis": {"orient": "bottom", "values": [-1.5, -1, -0.5, 0, 0.5, 1, 1.5], "title": null}},
  "x2": {"field": "x1"},
  "y": {"field": "h", "type": "quantitative", "scale": {"domain": [-0.2053, 0.2106], "nice": false, "zero": false},
        "axis": {"orient": "left", "values": [-0.2, -0.1, 0, 0.1, 0.2], "title": null, "labels": false}},
  "y2": {"datum": 0}
 }},
{"data": {"values": [{}]}, "mark": {"type": "rule", "color": "#5a5a5a", "strokeWidth": 1.5},
 "encoding": {"y": {"datum": 0, "type": "quantitative", "scale": {"domain": [-0.2053, 0.2106], "nice": false, "zero": false}, "axis": {"orient": "right", "values": [-0.2, -0.1, 0, 0.1, 0.2], "labels": false, "title": null}}}},
{"data": {"name": "L"}, "transform": [{"filter": "datum.p == 'd' && datum.m != 'GIM'"}],
 "mark": {"type": "line", "strokeWidth": 3.2, "strokeJoin": "round", "clip": true},
 "encoding": {
  "x": {"field": "x", "type": "quantitative", "scale": {"domain": [-1.745, 1.76], "nice": false, "zero": false}, "axis": {"orient": "top", "values": [-1.5, -1, -0.5, 0, 0.5, 1, 1.5], "labels": false, "title": null}},
  "y": {"field": "y", "type": "quantitative", "scale": {"domain": [-0.2053, 0.2106], "nice": false, "zero": false}, "axis": null},
  "color": {"field": "m", "type": "nominal", "scale": {"domain": ["ORCHIDEE-LSCE","DLEM","CLM4","BIOME-BGC","GTEC","CLM4VIC","VEGAS","LPJ-wsl","VISIT","ISAM","GIM"], "range": ["#a50026","#d73027","#f46d43","#fdae61","#fee090","#e0f3f8","#abd9e9","#74add1","#4575b4","#313695","#262626"]}, "legend": {"title": null, "encode": {"symbols": {"update": {"strokeWidth": {"signal": "datum.value === 'GIM' ? 6 : 3.5"}, "strokeDash": {"signal": "datum.value === 'GIM' ? [18, 17] : [1, 0]"}}}}}}
 }},
{"data": {"name": "L"}, "transform": [{"filter": "datum.p == 'd' && datum.m == 'GIM'"}],
 "mark": {"type": "line", "strokeWidth": 6.5, "strokeDash": [15, 17], "strokeCap": "butt", "clip": true},
 "encoding": {
  "x": {"field": "x", "type": "quantitative", "scale": {"domain": [-1.745, 1.76], "nice": false, "zero": false}, "axis": null},
  "y": {"field": "y", "type": "quantitative", "scale": {"domain": [-0.2053, 0.2106], "nice": false, "zero": false}, "axis": null},
  "color": {"field": "m", "type": "nominal", "scale": {"domain": ["ORCHIDEE-LSCE","DLEM","CLM4","BIOME-BGC","GTEC","CLM4VIC","VEGAS","LPJ-wsl","VISIT","ISAM","GIM"], "range": ["#a50026","#d73027","#f46d43","#fdae61","#fee090","#e0f3f8","#abd9e9","#74add1","#4575b4","#313695","#262626"]}, "legend": {"title": null, "encode": {"symbols": {"update": {"strokeWidth": {"signal": "datum.value === 'GIM' ? 6 : 3.5"}, "strokeDash": {"signal": "datum.value === 'GIM' ? [18, 17] : [1, 0]"}}}}}}
 }},
{"data": {"values": [{}]}, "mark": {"type": "text", "fontSize": 19, "font": "Liberation Sans", "color": "#111"},
 "encoding": {
  "x": {"datum": 1.49, "type": "quantitative", "scale": {"domain": [-1.745, 1.76], "nice": false, "zero": false}, "axis": null},
  "y": {"datum": 0.161, "type": "quantitative", "scale": {"domain": [-0.2053, 0.2106], "nice": false, "zero": false}, "axis": null},
  "text": {"value": "d)"}
 }}
]
}
],
"title": {
 "text": [
  "Figure 4. TBMs with larger NEE sensitivity to summertime (June, July, August) environmental drivers in Needleleaf and Deciduous &",
  "mixed forests (a) and (c) show smaller sensitivity in Grasslands and Shrublands regions (b) and (d), and vice versa. Sensitivity of annual",
  "NEE anomalies to summer temperature (a) and (b) and precipitation (c) and (d) anomalies in Needleleaf and Deciduous & mixed forests",
  "(a) and (c) and Grasslands and Shrublands regions (b) and (d) for the suite of ten TBMs (colored lines) and atmospheric observation-",
  "based estimate (GIM—dark grey dashed line). Grey histogram shows the distribution of summer environmental anomalies. TBMs",
  "ordered based on the difference in IAV contribution between Grasslands and Shrublands regions and Needleleaf and Deciduous &",
  "mixed forests from figure 3."
 ],
 "orient": "bottom", "anchor": "start", "frame": "group", "dx": -75, "offset": 33,
 "font": "Liberation Serif", "fontSize": 19.7, "fontWeight": "normal", "lineHeight": 22, "color": "#222"
},
"config": {
 "view": {"stroke": "#000", "strokeWidth": 1.5},
 "font": "Liberation Sans",
 "axis": {"domain": false, "grid": false, "ticks": true, "tickColor": "#000", "tickSize": -5, "tickWidth": 1.5, "labelFont": "Liberation Sans", "labelFontSize": 17, "labelColor": "#111", "labelExpr": "replace(format(datum.value, '~g'), '\u2212', '-')", "titleFont": "Liberation Sans", "titleFontSize": 22.5, "titleFontWeight": "normal", "titleColor": "#111"},
 "axisX": {"labelPadding": 19},
 "axisY": {"labelPadding": 11},
 "title": {"font": "Liberation Sans", "fontSize": 22.4, "fontWeight": "normal", "color": "#111"},
 "legend": {"orient": "none", "legendX": 754, "legendY": 150, "strokeColor": "#000", "padding": 8, "fillColor": "#fff", "labelFont": "Liberation Sans", "labelFontSize": 17, "labelColor": "#111", "symbolType": "stroke", "symbolSize": 3025, "symbolStrokeWidth": 3.5, "symbolOffset": 20, "labelOffset": 28, "rowPadding": 6}
}
}
